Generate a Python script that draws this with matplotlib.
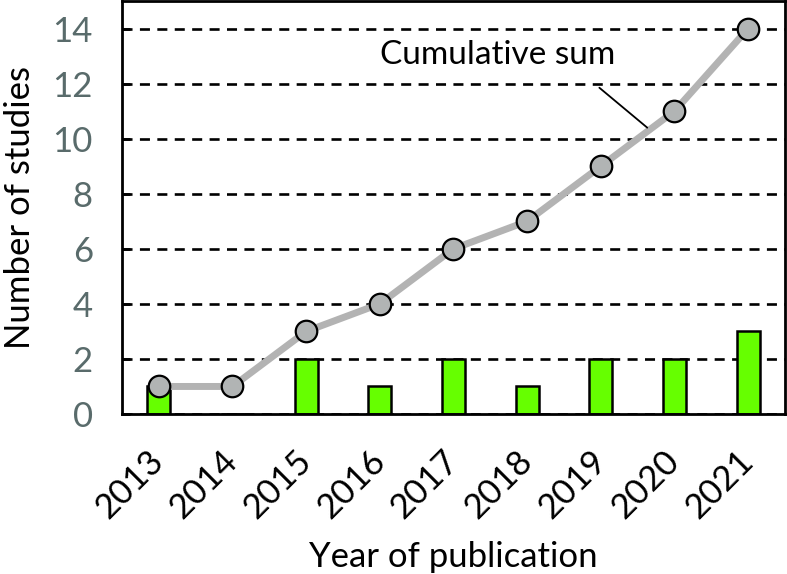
import matplotlib
matplotlib.use("Agg")
import matplotlib.pyplot as plt

plt.rcParams['font.family'] = ['Lato', 'DejaVu Sans']

years = ["2013", "2014", "2015", "2016", "2017", "2018", "2019", "2020", "2021"]
studies = [1, 0, 2, 1, 2, 1, 2, 2, 3]
cumulative = [1, 1, 3, 4, 6, 7, 9, 11, 14]
yticks = [0, 2, 4, 6, 8, 10, 12, 14]

fig = plt.figure(figsize=(7.87, 5.74), dpi=100)
ax = fig.add_axes([122/787, 1 - 414/574, (785-122)/787, (414-1)/574])

x = list(range(len(years)))
ax.set_axisbelow(True)
ax.yaxis.grid(True, color='black', linestyle=(0, (3.8, 2.8)), linewidth=1.9)
ax.bar(x, studies, width=0.31, color='#66ff00', edgecolor='black', linewidth=1.8, zorder=2)
ax.plot(x, cumulative, color='#b3b3b3', linewidth=5, zorder=3,
        marker='o', markersize=15.5, markerfacecolor='#b1b4b4',
        markeredgecolor='black', markeredgewidth=1.6)

ax.set_xlim(-0.5, 8.5)
ax.set_ylim(0, 15)
ax.set_yticks(yticks)
ax.set_xticks(x)
ax.set_xticklabels(years, rotation=45, ha='right', va='center',
                   rotation_mode='anchor', fontsize=25)
ax.tick_params(axis='y', labelsize=25, labelcolor='#596b6b', direction='in',
               length=6, width=2, pad=21)
ax.tick_params(axis='x', length=0, pad=30)
for s in ax.spines.values():
    s.set_linewidth(2)
    s.set_color('black')

ax.set_ylabel("Number of studies", fontsize=25)
ax.yaxis.set_label_coords(-86/663, 0.5)
ax.set_xlabel("Year of publication", fontsize=25, labelpad=12)

ax.text(4.6, 13.05, "Cumulative sum", fontsize=24, ha='center', va='center')
ax.annotate("", xy=(6.63, 10.4), xytext=(5.98, 11.85),
            arrowprops=dict(arrowstyle='-', color='black', linewidth=1.3,
                            shrinkA=0, shrinkB=0))

fig.savefig("out.png", dpi=100)
